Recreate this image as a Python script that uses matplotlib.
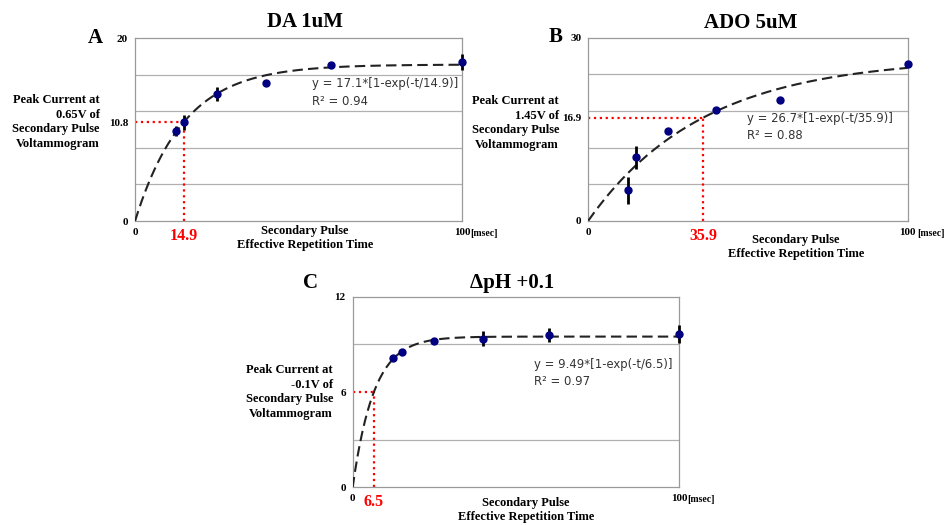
import numpy as np
import matplotlib.pyplot as plt

# repetition time [msec]
t_pts = [12.5, 15, 25, 40, 60, 100]

# panel A: DA 1uM
da_y = [9.8, 10.8, 13.9, 15.1, 17.0, 17.4]
da_err = [0.55, 0.8, 0.8, 0.36, 0.2, 0.85]
da_amp, da_tau, da_r2 = 17.1, 14.9, 0.94

# panel B: ADO 5uM
ado_y = [5.0, 10.4, 14.7, 18.2, 19.8, 25.7]
ado_err = [2.2, 1.85, 0.3, 0.3, 0.3, 0.3]
ado_amp, ado_tau, ado_r2 = 26.7, 35.9, 0.88

# panel C: dpH +0.1
ph_y = [8.15, 8.5, 9.2, 9.36, 9.58, 9.65]
ph_err = [0.1, 0.1, 0.1, 0.47, 0.46, 0.55]
ph_amp, ph_tau, ph_r2 = 9.49, 6.5, 0.97

serif = 'Liberation Serif'

fig = plt.figure(figsize=(9.49, 5.25), dpi=100)


def panel(rect, letter, title, ylab, y, err, amp, tau, r2, ymax, grid_step,
          letter_xy, title_xy, ylab_xy, xlab_xy, eq_xy, msec_gap):
    ax = fig.add_axes(rect)
    t = np.linspace(0, 100, 400)
    fit = amp * (1 - np.exp(-t / tau))
    ax.plot(t, fit, color='#222222', lw=1.5, ls=(0, (5, 2.5)), zorder=3)
    ax.errorbar(t_pts, y, yerr=err, fmt='o', color='#000080', ms=5,
                ecolor='black', elinewidth=2, capsize=0, zorder=4,
                clip_on=False)
    y_half = amp * (1 - np.exp(-1))
    ax.plot([0, tau], [y_half, y_half], color='red', ls=':', lw=1.6, zorder=2)
    ax.plot([tau, tau], [0, y_half], color='red', ls=':', lw=1.6, zorder=2)

    ax.set_xlim(0, 100)
    ax.set_ylim(0, ymax)
    ax.set_xticks([0, tau, 100])
    ax.set_xticklabels(['0', f'{tau:g}', '100'])
    yh = round(y_half, 1)
    ax.set_yticks([0, yh, ymax])
    ax.set_yticklabels(['0', f'{yh:g}', f'{ymax:g}'])
    ax.set_yticks(np.arange(grid_step, ymax, grid_step), minor=True)
    ax.grid(True, which='minor', axis='y', color='#b0b0b0', lw=0.9)
    ax.tick_params(which='both', length=0)
    ax.tick_params(axis='both', pad=5, labelsize=8)
    for lab in ax.get_xticklabels() + ax.get_yticklabels():
        lab.set_fontfamily(serif)
        lab.set_fontweight('bold')
    red = ax.get_xticklabels()[1]
    red.set_color('red')
    red.set_fontsize(11.5)
    for s in ax.spines.values():
        s.set_color('#9a9a9a')
        s.set_linewidth(0.9)

    ax.annotate('[msec]', xy=(1, 0), xycoords='axes fraction',
                xytext=(msec_gap, -9), textcoords='offset points',
                ha='left', va='center', fontsize=7, fontweight='bold',
                family=serif)

    ax.text(eq_xy[0], eq_xy[1],
            f'y = {amp:g}*[1-exp(-t/{tau:g})]\nR\u00b2 = {r2:.2f}',
            transform=ax.transAxes, ha='left', va='top', fontsize=8.4,
            color='#333333', family='DejaVu Sans', linespacing=1.45)

    W, H = 949, 525
    fig.text(letter_xy[0] / W, 1 - letter_xy[1] / H, letter, ha='center',
             va='center', fontsize=15, fontweight='bold', family=serif)
    fig.text(title_xy[0] / W, 1 - title_xy[1] / H, title, ha='center',
             va='center', fontsize=15, fontweight='bold', family=serif)
    fig.text(ylab_xy[0] / W, 1 - ylab_xy[1] / H, ylab, ha='right',
             va='center', multialignment='right', fontsize=9,
             fontweight='bold', family=serif, linespacing=1.3)
    fig.text(xlab_xy[0] / W, 1 - xlab_xy[1] / H,
             'Secondary Pulse\nEffective Repetition Time', ha='center',
             va='center', fontsize=9, fontweight='bold', family=serif,
             linespacing=1.3)
    return ax


panel([0.1423, 0.579, 0.3446, 0.3486], 'A', 'DA 1uM',
      'Peak Current at\n0.65V of\nSecondary Pulse\nVoltammogram',
      da_y, da_err, da_amp, da_tau, da_r2, 20, 4,
      (95, 38), (305, 22), (100, 122), (305, 238), (0.54, 0.785), 6)

panel([0.6199, 0.5796, 0.3366, 0.3486], 'B', 'ADO 5uM',
      'Peak Current at\n1.45V of\nSecondary Pulse\nVoltammogram',
      ado_y, ado_err, ado_amp, ado_tau, ado_r2, 30, 6,
      (556, 37), (751, 23), (559, 123), (796, 247), (0.497, 0.595), 7)

panel([0.3716, 0.0718, 0.3441, 0.3630], 'C', '\u0394pH +0.1',
      'Peak Current at\n-0.1V of\nSecondary Pulse\nVoltammogram',
      ph_y, ph_err, ph_amp, ph_tau, ph_r2, 12, 3,
      (311, 283), (512, 283), (333, 392), (526, 510), (0.555, 0.68), 6)

plt.savefig('out.png', dpi=100)
